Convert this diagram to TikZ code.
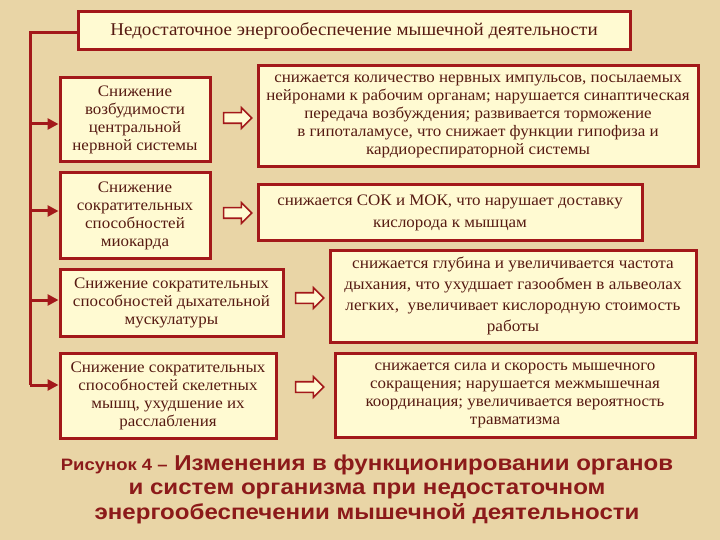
\documentclass[tikz,border=0pt]{standalone}
\usepackage{fontspec}
\setmainfont{Liberation Serif}[FakeStretch=1.06]
\newfontfamily\capfont{Liberation Sans}[FakeStretch=1.12]
\usetikzlibrary{shapes.arrows,arrows.meta}
\definecolor{parch}{HTML}{E9D5A6}
\definecolor{boxred}{HTML}{A3181A}
\definecolor{boxfill}{HTML}{FFFAD2}
\definecolor{boxtext}{HTML}{561A12}
\definecolor{capred}{HTML}{8C1A1A}
\tikzset{
  box/.style={draw=boxred,fill=boxfill,line width=3pt,inner sep=0pt,align=center,text=boxtext,
    font=\fontsize{16}{18}\selectfont},
  hollow/.style={single arrow,draw=boxred,fill=boxfill,line width=1.6pt,inner sep=4.5pt,
    single arrow head extend=5pt,minimum height=28pt},
  feed/.style={draw=boxred,line width=3pt,-{Triangle[length=11pt,width=11pt]}}
}
\begin{document}
\begin{tikzpicture}[x=1pt,y=-1pt]
  \fill[parch] (0,0) rectangle (720,540);
  \useasboundingbox (0,0) rectangle (720,540);
  \node[box,minimum width=552pt,minimum height=38pt,font=\fontsize{18}{20}\selectfont] (top) at (354,31)
    {Недостаточное энергообеспечение мышечной деятельности};
  % left column
  \node[box,minimum width=150pt,minimum height=84pt] (l1) at (135,120)
    {Снижение\\возбудимости\\центральной\\нервной системы};
  \node[box,minimum width=150pt,minimum height=85pt] (l2) at (135,215.5)
    {Снижение\\сократительных\\способностей\\миокарда};
  \node[box,minimum width=223pt,minimum height=67pt] (l3) at (171.5,302.5)
    {Снижение сократительных\\способностей дыхательной\\мускулатуры};
  \node[box,minimum width=216pt,minimum height=85pt] (l4) at (168,395.5)
    {Снижение сократительных\\способностей скелетных\\мышц, ухудшение их\\расслабления};
  % right column
  \node[box,minimum width=440pt,minimum height=101pt] (r1) at (478,116.5)
    {снижается количество нервных импульсов, посылаемых\\нейронами к рабочим органам; нарушается синаптическая\\передача возбуждения; развивается торможение\\в гипоталамусе, что снижает функции гипофиза и\\кардиореспираторной системы};
  \node[box,minimum width=384pt,minimum height=55pt,font=\fontsize{16}{22}\selectfont] (r2) at (450,212.5)
    {снижается СОК и МОК, что нарушает доставку\\кислорода к мышцам};
  \node[box,minimum width=366pt,minimum height=92pt,font=\fontsize{16.2}{21}\selectfont] (r3) at (513,296)
    {снижается глубина и увеличивается частота\\дыхания, что ухудшает газообмен в альвеолах\\легких,\ \ увеличивает кислородную стоимость\\работы};
  \node[box,minimum width=360pt,minimum height=84pt] (r4) at (515,395)
    {снижается сила и скорость мышечного\\сокращения; нарушается межмышечная\\координация; увеличивается вероятность\\травматизма};
  % hollow arrows
  \node[hollow] (a1) at (235,118) {};
  \node[hollow] (a2) at (235,213) {};
  \node[hollow] (a3) at (307,298) {};
  \node[hollow] (a4) at (307,387) {};
  % feed line
  \coordinate (bus) at (30,33);
  \draw[boxred,line width=3pt] (top.west |- bus) -- (bus) -- (30,385);
  \draw[feed] (30,124) -- (l1.west |- 0,124);
  \draw[feed] (30,211) -- (l2.west |- 0,211);
  \draw[feed] (30,300) -- (l3.west |- 0,300);
  \draw[feed] (30,385) -- (l4.west |- 0,385);
  % caption
  \node[capred,font=\capfont\bfseries\fontsize{21.5}{24.5}\selectfont,align=center] (cap) at (367,489)
    {{\fontsize{16.5}{19}\selectfont Рисунок 4 –} Изменения в\ функционировании органов\\и систем организма при недостаточном\\энергообеспечении мышечной деятельности};
\end{tikzpicture}
\end{document}
